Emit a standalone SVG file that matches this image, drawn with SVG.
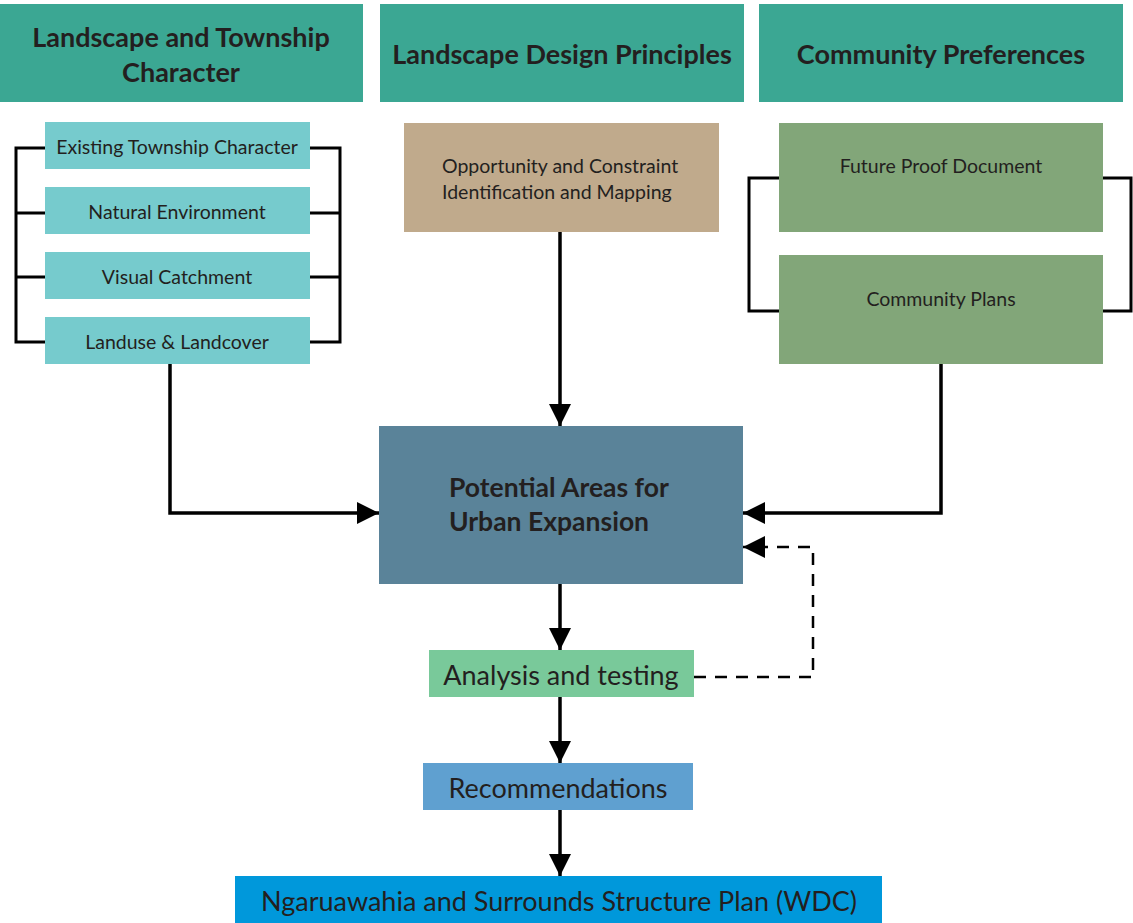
<svg xmlns="http://www.w3.org/2000/svg" width="1133" height="923" viewBox="0 0 1133 923">
<style>
.hdr{fill:#3ba793}
.t{font-family:Lato,"Open Sans",sans-serif;fill:#231f20}
.h{font-size:27px;font-weight:bold;text-anchor:middle}
.s{font-size:19.5px;text-anchor:middle}
.c{stroke:#000;stroke-width:3;fill:none}
.a{stroke:#000;stroke-width:3.5;fill:none;marker-end:url(#ahb)}
</style>
<defs>
<marker id="ahb" viewBox="0 0 10 10" refX="10" refY="5" markerWidth="22" markerHeight="22" markerUnits="userSpaceOnUse" orient="auto">
<path d="M0,0 L10,5 L0,10 Z" fill="#000"/>
</marker>
</defs>
<rect width="1133" height="923" fill="#fff"/>
<g id="connectors">
<path class="c" d="M45,148 H16 V342 H45 M16,213 H45 M16,277 H45"/>
<path class="c" d="M310,148 H340 V342 H310 M310,213 H340 M310,277 H340"/>
<path class="c" d="M779,178 H749 V311 H779"/>
<path class="c" d="M1103,178 H1131 V311 H1103"/>
<path class="a" d="M560,232 V426"/>
<path class="a" d="M170,364 V513 H379"/>
<path class="a" d="M941,364 V513 H743"/>
<path class="a" d="M560,584 V650"/>
<path class="a" d="M560,697 V763"/>
<path class="a" d="M560,810 V876"/>
<path d="M694,677 H813 V547 H762" stroke="#000" stroke-width="2.5" fill="none" stroke-dasharray="12,9"/>
<path d="M765,547 H743" stroke="#000" stroke-width="2.5" fill="none" marker-end="url(#ahb)"/>
</g>
<g id="hdr1"><rect class="hdr" x="0" y="4" width="363" height="98"/><text class="t h" x="181" y="47">Landscape and Township</text><text class="t h" x="181" y="82">Character</text></g>
<g id="hdr2"><rect class="hdr" x="380" y="4" width="364" height="98"/><text class="t h" x="562" y="64">Landscape Design Principles</text></g>
<g id="hdr3"><rect class="hdr" x="759" y="4" width="364" height="98"/><text class="t h" x="941" y="64">Community Preferences</text></g>
<g id="n-existing"><rect x="45" y="122" width="265" height="47" fill="#76cbcd"/><text class="t s" x="177" y="154">Existing Township Character</text></g>
<g id="n-natural"><rect x="45" y="187" width="265" height="47" fill="#76cbcd"/><text class="t s" x="177" y="219">Natural Environment</text></g>
<g id="n-visual"><rect x="45" y="252" width="265" height="47" fill="#76cbcd"/><text class="t s" x="177" y="284">Visual Catchment</text></g>
<g id="n-landuse"><rect x="45" y="317" width="265" height="47" fill="#76cbcd"/><text class="t s" x="177" y="349">Landuse &amp; Landcover</text></g>
<g id="n-opportunity"><rect x="404" y="123" width="315" height="109" fill="#c0aa8c"/><text class="t" font-size="19.5" x="442" y="173">Opportunity and Constraint</text><text class="t" font-size="19.5" x="442" y="199">Identification and Mapping</text></g>
<g id="n-future"><rect x="779" y="123" width="324" height="109" fill="#82a679"/><text class="t s" x="941" y="173">Future Proof Document</text></g>
<g id="n-community"><rect x="779" y="255" width="324" height="109" fill="#82a679"/><text class="t s" x="941" y="306">Community Plans</text></g>
<g id="n-potential"><rect x="379" y="426" width="364" height="158" fill="#5a8399"/><text class="t" font-size="26.5" font-weight="bold" x="449" y="497">Potential Areas for</text><text class="t" font-size="26.5" font-weight="bold" x="449" y="531">Urban Expansion</text></g>
<g id="n-analysis"><rect x="429" y="650" width="265" height="47" fill="#79c99a"/><text class="t" font-size="27" text-anchor="middle" x="561" y="685">Analysis and testing</text></g>
<g id="n-recommend"><rect x="423" y="763" width="270" height="47" fill="#5fa0d0"/><text class="t" font-size="27" text-anchor="middle" x="558" y="798">Recommendations</text></g>
<g id="n-final"><rect x="235" y="876" width="647" height="47" fill="#0098db"/><text class="t" font-size="27" text-anchor="middle" x="559" y="911">Ngaruawahia and Surrounds Structure Plan (WDC)</text></g>
</svg>
